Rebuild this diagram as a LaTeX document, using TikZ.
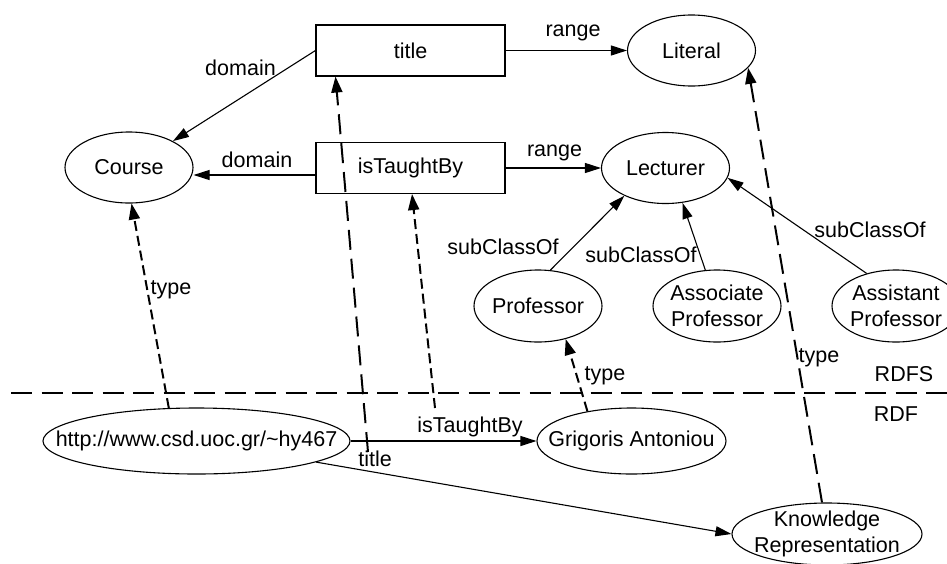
\documentclass[tikz,border=0pt]{standalone}
\usepackage{fontspec}
\setmainfont{Liberation Sans}
\usetikzlibrary{arrows.meta,shapes.geometric}
\begin{document}
\begin{tikzpicture}[x=1pt,y=-1pt,
  font=\fontsize{21.5}{26}\selectfont,
  cls/.style={ellipse,draw,line width=1.1pt,inner xsep=-300pt,inner ysep=-100pt,
    minimum width=128pt,minimum height=71pt,align=center},
  prop/.style={rectangle,draw,line width=1.1pt,minimum width=189pt,minimum height=51pt,inner sep=0pt},
  lbl/.style={inner sep=0pt},
  arr/.style={line width=1.1pt,-{Triangle[length=16pt,width=10pt]}},
  tarr/.style={line width=2pt,dash pattern=on 10pt off 5pt,-{Triangle[length=16pt,width=11pt]}},
  larr/.style={line width=2pt,dash pattern=on 20pt off 9pt,-{Triangle[length=16pt,width=11pt]}},
  divider/.style={line width=2pt,dash pattern=on 21pt off 9.5pt},
]
\clip (0,0) rectangle (947,563);
\useasboundingbox (0,0) rectangle (947,563);

% property boxes
\node[prop] (title) at (410.5,50.5) {title};
\node[prop] (itb) at (410.5,168) {isTaughtBy};

% classes
\node[cls] (lit) at (691.5,50.5) {Literal};
\node[cls] (course) at (129,167.5) {Course};
\node[cls] (lect) at (665.5,168) {Lecturer};
\node[cls,minimum height=72pt] (prof) at (538,306) {Professor};
\node[cls,minimum height=72pt] (assoc) at (717,306) {Associate\\Professor};
\node[cls,minimum height=72pt] (asst) at (896,306) {Assistant\\Professor};

% instances
\node[cls,minimum width=307pt,minimum height=66pt] (http) at (196.5,441) {http://www.csd.uoc.gr/\string~hy467};
\node[cls,minimum width=189pt,minimum height=66pt] (grig) at (631.5,441) {Grigoris Antoniou};
\node[cls,minimum width=190pt,minimum height=62pt] (kr) at (827,534) {Knowledge\\Representation};

% RDFS / RDF divider
\coordinate (dl) at (11,393);
\coordinate (dr) at (947,393);
\draw[divider] (dl) -- (dr);
\node[lbl] (rdfs) at (904,374.5) {RDFS};
\node[lbl] (rdf) at (896,414.5) {RDF};

% schema connectors
\draw[arr] (title.west) -- (course.31);
\draw[arr] ([yshift=-7pt]itb.west) -- ([yshift=-7pt]itb.west -| course.east);
\draw[arr] (title.east) -- (lit.west);
\draw[arr] (itb.east) -- (lect.west);
\draw[arr] (prof.71) -- (lect.214);
\draw[arr] (assoc.108) -- (lect.-64);
\draw[arr] (asst.132) -- (lect.-9);

% instance connectors
\draw[arr] (http.east) -- (grig.west);
\draw[arr] (http.-10.5) -- (kr.west);

% type connectors
\coordinate (tt) at (368,452);
\coordinate (it) at (435,408);
\draw[tarr] (http.130) -- (course.-86);
\draw[larr] (tt) -- ([xshift=-75pt]title.south);
\draw[tarr] (it) -- ([xshift=1.5pt]itb.south);
\draw[tarr] (grig.146) -- (prof.-50);
\draw[larr] ([xshift=-5pt]kr.north) -- (lit.-17);

% labels
\node[lbl] (l1) at (240.5,68) {domain};
\node[lbl] (l2) at (257,160) {domain};
\node[lbl] (l3) at (573,32.5) {range};
\node[lbl] (l4) at (554.5,152.5) {range};
\node[lbl] (l5) at (503,247) {subClassOf};
\node[lbl] (l6) at (641,254.5) {subClassOf};
\node[lbl] (l7) at (870,229.5) {subClassOf};
\node[lbl] (l8) at (171,290) {type};
\node[lbl] (l9) at (375,459) {title};
\node[lbl] (l10) at (470,427) {isTaughtBy};
\node[lbl] (l11) at (605,376) {type};
\node[lbl] (l12) at (819,358) {type};
\end{tikzpicture}
\end{document}
